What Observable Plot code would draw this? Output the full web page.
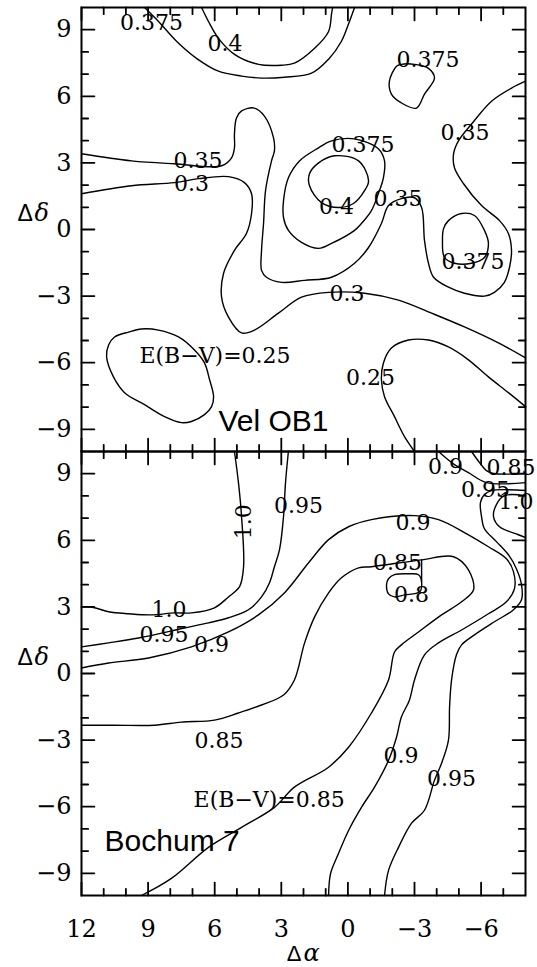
<!DOCTYPE html>
<html>
<head>
<meta charset="utf-8">
<script src="https://cdn.jsdelivr.net/npm/d3@7"></script>
<script src="https://cdn.jsdelivr.net/npm/@observablehq/plot@0.6"></script>
<style>
  html, body { margin: 0; padding: 0; background: #fff; }
  #chart svg { display: block; }
</style>
</head>
<body>
<div id="chart"></div>
<script>
// Reddening maps: iso-E(B−V) contours over offsets Δα, Δδ (arcmin)
const panels = ["Vel OB1", "Bochum 7"];

const xMajor = [12, 9, 6, 3, 0, -3, -6];
const xMinor = [11, 10, 8, 7, 5, 4, 2, 1, -1, -2, -4, -5, -7];
const yMajor = [-9, -6, -3, 0, 3, 6, 9];
const yMinor = [-8, -7, -5, -4, -2, -1, 1, 2, 4, 5, 7, 8];
const xDomain = [12, -8];
const yDomain = [-10, 10];

// ---- Vel OB1 contour vertices [Δα, Δδ] ----
const vel0375North = [[9.16,10],[8.53,9.37],[7.72,8.48],[6.82,7.71],[5.83,7.13],[4.79,6.91],[3.89,6.82],[2.86,6.86],[1.64,7.04],[0.87,7.67],[0.29,8.48],[-0.07,9.37],[-0.30,10]];
const vel040North = [[6.59,10],[6.28,9.37],[5.83,8.61],[5.11,7.89],[4.03,7.44],[2.99,7.40],[2.41,7.49],[1.50,8.16],[0.87,8.92],[0.74,9.69],[0.69,10]];
const vel0375NE = [[-2.19,7.35],[-1.87,6.68],[-1.96,6.10],[-2.41,5.70],[-3.09,5.47],[-3.45,6.10],[-3.90,6.82],[-3.63,7.26],[-3.00,7.44],[-2.41,7.44]];
const vel035 = [[12,3.41],[9.75,3.09],[7.81,2.96],[5.69,2.87],[5.24,3.23],[5.11,3.68],[5.11,4.30],[5.02,5.02],[4.79,5.34],[4.21,5.47],[3.76,5.11],[3.35,4.13],[3.31,3.54],[3.44,3.09],[3.71,1.75],[3.80,0.27],[3.89,-0.94],[3.89,-1.84],[3.67,-2.15],[2.99,-2.38],[1.95,-2.29],[0.74,-2.15],[-0.30,-1.52],[-0.93,-0.81],[-1.51,0.27],[-1.83,1.08],[-2.41,1.39],[-3.00,1.43],[-3.32,0.99],[-3.45,-0.49],[-3.63,-1.52],[-3.86,-2.15],[-4.53,-2.60],[-5.25,-2.87],[-6.15,-3.00],[-6.60,-2.83],[-7.05,-2.38],[-7.28,-1.70],[-7.37,-0.94],[-7.23,-0.18],[-6.83,0.40],[-6.02,1.08],[-5.21,2.06],[-4.80,2.78],[-4.76,3.41],[-4.98,3.99],[-5.57,4.75],[-6.47,5.78],[-7.37,6.37],[-8,6.68]];
const vel0375SE = [[-4.53,0.40],[-5.12,0.72],[-5.70,0.63],[-6.15,-0.04],[-6.33,-0.63],[-6.15,-1.26],[-5.57,-1.52],[-4.80,-1.52],[-4.35,-1.26],[-4.26,-0.49],[-4.31,0.04]];
const vel0375Mid = [[0.74,3.99],[-0.30,4.08],[-1.38,3.63],[-1.65,3.09],[-1.60,2.33],[-1.42,1.75],[-1.06,0.85],[-0.61,0.27],[-0.30,-0.04],[0.74,-0.63],[1.32,-0.85],[2.09,-0.58],[2.68,-0.04],[2.90,0.54],[2.90,1.30],[2.68,2.33],[2.18,3.09],[1.32,3.68]];
const vel040Mid = [[1.32,3.00],[0.60,3.32],[-0.48,3.09],[-0.93,2.20],[-0.75,1.75],[-0.25,1.17],[0.42,0.99],[1.19,1.21],[1.73,1.97],[1.73,2.51]];
const vel030 = [[12,1.61],[9.75,1.97],[7.81,2.11],[6.73,2.29],[5.38,2.38],[4.66,2.11],[4.34,1.61],[4.34,0.72],[4.57,-0.18],[5.11,-0.94],[5.60,-1.97],[5.69,-3.05],[5.38,-3.95],[4.79,-4.66],[4.21,-4.53],[3.13,-3.77],[2.09,-3.05],[0.87,-2.83],[-0.75,-2.87],[-2.28,-3.18],[-3.77,-3.77],[-5.25,-4.39],[-6.78,-5.11],[-8,-5.78]];
const vel025West = [[10.78,-5.20],[10.51,-4.84],[9.88,-4.62],[9.30,-4.48],[8.53,-4.53],[7.63,-4.84],[6.91,-5.43],[6.46,-6.01],[6.23,-6.77],[6.05,-7.53],[6.14,-7.98],[6.46,-8.34],[7.05,-8.65],[7.50,-8.70],[8.26,-8.43],[9.16,-7.89],[10.06,-7.35],[10.56,-6.64],[10.87,-5.74]];
const vel025East = [[-3.00,-10],[-2.55,-9.33],[-2.10,-8.43],[-1.65,-7.53],[-1.51,-6.77],[-1.60,-6.01],[-1.96,-5.34],[-2.73,-4.98],[-3.63,-4.98],[-4.53,-5.29],[-5.43,-5.87],[-6.33,-6.64],[-7.23,-7.35],[-8,-7.98]];

// ---- Bochum 7 contour vertices [Δα, Δδ] ----
const boc100West = [[5.11,10],[4.93,8.60],[4.79,7.07],[4.70,4.81],[4.88,3.91],[5.38,3.45],[6.01,2.96],[7.05,2.73],[7.81,2.73],[8.85,2.64],[9.88,2.69],[10.78,2.78],[11.41,2.96],[12,3.00]];
const boc095West = [[2.68,10],[2.81,8.60],[2.90,7.07],[3.08,5.58],[3.31,4.81],[3.53,4.09],[3.89,3.45],[4.48,2.87],[5.38,2.51],[6.28,2.28],[7.36,2.05],[9.43,1.60],[10.78,1.38],[12,1.20]];
const boc090 = [[12,0.25],[10.78,0.47],[8.98,0.70],[7.05,1.20],[5.38,1.87],[4.03,2.64],[2.86,3.63],[1.77,4.99],[0.87,6.03],[-0.03,6.61],[-1.06,6.93],[-3.00,7.11],[-4.08,6.93],[-5.25,6.35],[-6.33,5.71],[-7.14,5.17],[-7.46,4.58],[-7.50,3.81],[-7.14,3.23],[-6.33,2.69],[-5.12,1.96],[-4.08,1.38],[-3.45,0.84],[-3.00,-0.29],[-2.77,-1.20],[-2.41,-1.96],[-2.19,-2.87],[-1.83,-3.91],[-1.20,-5.12],[-0.61,-6.03],[-0.03,-7.07],[0.42,-8.10],[0.78,-9.01],[0.87,-10]];
const boc085 = [[12,-2.33],[10.51,-2.33],[8.71,-2.33],[7.50,-2.19],[6.01,-2.10],[4.93,-1.78],[3.89,-1.42],[2.90,-0.97],[2.41,-0.29],[1.95,1.38],[1.50,2.55],[0.87,3.63],[0.29,4.31],[-0.48,4.76],[-1.06,4.81],[-3.32,5.12],[-4.76,5.26],[-5.43,4.67],[-5.66,3.77],[-5.12,3.23],[-4.22,2.64],[-3.18,1.87],[-2.41,1.29],[-2.10,0.97],[-1.83,-0.29],[-1.06,-1.78],[-0.03,-3.32],[0.87,-4.22],[2.41,-5.12],[3.31,-6.03],[4.79,-6.93],[6.28,-7.83],[7.95,-9.23],[9.30,-10]];
const boc095East = [[-8,8.24],[-6.47,8.24],[-6.15,8.06],[-5.97,7.70],[-6.02,7.07],[-6.15,6.52],[-6.69,5.94],[-7.23,5.35],[-7.59,4.72],[-7.82,4.00],[-7.82,3.32],[-7.46,2.87],[-6.60,2.33],[-5.70,1.74],[-5.12,1.29],[-4.89,0.84],[-4.67,-0.29],[-4.58,-1.51],[-4.53,-3.00],[-4.22,-4.04],[-3.90,-4.81],[-3.45,-6.16],[-2.86,-6.75],[-2.28,-7.83],[-1.83,-8.87],[-1.65,-10]];
const boc100East = [[-8,8.01],[-7.05,8.01],[-6.69,7.61],[-6.56,7.07],[-6.83,6.61],[-7.68,6.25],[-8,6.12]];
const boc090Corner = [[-4.08,10],[-4.80,9.41],[-5.43,9.05],[-6.24,8.60],[-8,8.60]];
const boc085Corner = [[-5.57,10],[-5.93,9.50],[-6.24,9.14],[-6.56,9.01],[-8,9.01]];
const boc085Link = [[-3.32,5.12],[-3.32,4.13]];
const boc080 = [[-1.83,4.27],[-2.10,4.45],[-2.73,4.49],[-3.18,4.45],[-3.32,4.13],[-3.23,3.68],[-2.55,3.54],[-2.10,3.45],[-1.83,3.59],[-1.74,4.00]];

// contour level labels: [level, Δα, Δδ, kind]  kind: "" centred, "start", "key" (E(B−V)= prefix), "up" (rotated)
const velLabels = [
  [0.375, 8.85, 9.30, ""], [0.4, 5.54, 8.36, ""], [0.375, -3.61, 7.65, ""],
  [0.35, -5.27, 4.37, ""], [0.375, -0.68, 3.83, ""], [0.35, 6.75, 3.09, ""],
  [0.3, 7.05, 2.04, ""], [0.4, 0.51, 1.03, ""], [0.35, -2.26, 1.37, ""],
  [0.375, -5.64, -1.46, ""], [0.3, 0.04, -2.89, ""], [0.25, 9.39, -5.70, "key"],
  [0.25, -1.02, -6.70, ""]
];
const bocLabels = [
  [0.9, -4.40, 9.32, ""], [0.85, -6.24, 9.28, "start"], [0.95, -6.20, 8.26, ""],
  [1.0, -6.78, 7.72, "start"], [1.0, 4.66, 6.84, "up"], [0.95, 2.23, 7.54, ""],
  [0.9, -2.93, 6.77, ""], [0.85, -2.23, 4.97, ""], [0.8, -2.86, 3.52, ""],
  [1.0, 8.06, 2.84, ""], [0.95, 8.28, 1.72, ""], [0.9, 6.14, 1.29, ""],
  [0.85, 5.81, -3.02, ""], [0.85, 6.95, -5.71, "key"], [0.9, -2.39, -3.70, ""],
  [0.95, -4.67, -4.74, ""]
];

// panel names and where they sit
const panelNameAt = [[5.83, -8.63], [10.96, -7.57]];

// ---- assemble tables for the marks ----
const contours = [
  ["Vel OB1", 0.375, false, vel0375North], ["Vel OB1", 0.4, false, vel040North],
  ["Vel OB1", 0.375, true, vel0375NE], ["Vel OB1", 0.35, false, vel035],
  ["Vel OB1", 0.375, true, vel0375SE], ["Vel OB1", 0.375, true, vel0375Mid],
  ["Vel OB1", 0.4, true, vel040Mid], ["Vel OB1", 0.3, false, vel030],
  ["Vel OB1", 0.25, true, vel025West], ["Vel OB1", 0.25, false, vel025East],
  ["Bochum 7", 1.0, false, boc100West], ["Bochum 7", 0.95, false, boc095West],
  ["Bochum 7", 0.9, false, boc090], ["Bochum 7", 0.85, false, boc085],
  ["Bochum 7", 0.95, false, boc095East], ["Bochum 7", 1.0, false, boc100East],
  ["Bochum 7", 0.9, false, boc090Corner], ["Bochum 7", 0.85, false, boc085Corner],
  ["Bochum 7", 0.85, false, boc085Link], ["Bochum 7", 0.8, true, boc080]
];
const rows = contours.flatMap(([panel, level, closed, pts], id) =>
  pts.map(([x, y]) => ({id, panel, level, closed, x, y})));
const openRows = rows.filter(d => !d.closed);
const closedRows = rows.filter(d => d.closed);

const labelRows = [
  ...velLabels.map(([level, x, y, kind]) => ({panel: panels[0], level, x, y, kind})),
  ...bocLabels.map(([level, x, y, kind]) => ({panel: panels[1], level, x, y, kind}))
];
const fmt = v => (v === 1 ? "1.0" : String(v));
const labelText = d => (d.kind === "key" ? "E(B\u2212V)=" : "") + fmt(d.level);

const nameRows = panels.map((panel, i) => ({panel, x: panelNameAt[i][0], y: panelNameAt[i][1]}));

// inward tick segments on all four sides of each panel (lengths in axis units)
const majorLen = 0.58, minorLen = 0.3;
const tickPaths = [];
let tid = 0;
for (const panel of panels) {
  for (const [vals, len] of [[xMajor, majorLen], [xMinor, minorLen]]) {
    for (const v of vals) {
      tickPaths.push({panel, id: tid, x: v, y: -10}, {panel, id: tid, x: v, y: -10 + len});
      tid += 1;
      tickPaths.push({panel, id: tid, x: v, y: 10}, {panel, id: tid, x: v, y: 10 - len});
      tid += 1;
    }
  }
  for (const [vals, len] of [[yMajor, majorLen], [yMinor, minorLen]]) {
    for (const v of vals) {
      tickPaths.push({panel, id: tid, x: 12, y: v}, {panel, id: tid, x: 12 - len, y: v});
      tid += 1;
      tickPaths.push({panel, id: tid, x: -8, y: v}, {panel, id: tid, x: -8 + len, y: v});
      tid += 1;
    }
  }
}

const serif = "DejaVu Serif";

const chart = Plot.plot({
  width: 537, height: 967,
  marginTop: 6, marginBottom: 72, marginLeft: 81, marginRight: 12,
  x: {domain: xDomain},
  y: {domain: yDomain},
  fy: {domain: panels, axis: null, padding: 0},
  style: {fontFamily: serif},
  marks: [
    // inward ticks
    Plot.line(tickPaths, {x: "x", y: "y", z: "id", fy: "panel", stroke: "#000", strokeWidth: 1.8}),

    // tick labels
    Plot.axisX(xMajor, {tickSize: 0, tickPadding: 24, fontSize: 24, label: null}),
    Plot.axisY(yMajor, {tickSize: 0, tickPadding: 10, fontSize: 24, label: null}),

    // contours
    Plot.line(openRows, {x: "x", y: "y", z: "id", fy: "panel", curve: "catmull-rom", stroke: "#000", strokeWidth: 1.4}),
    Plot.line(closedRows, {x: "x", y: "y", z: "id", fy: "panel", curve: "catmull-rom-closed", stroke: "#000", strokeWidth: 1.4}),

    // contour level labels
    Plot.text(labelRows.filter(d => d.kind === "" || d.kind === "up"), {
      x: "x", y: "y", fy: "panel", text: labelText,
      rotate: d => (d.kind === "up" ? -90 : 0),
      fontSize: 22, fontFamily: serif, fill: "#000"
    }),
    Plot.text(labelRows.filter(d => d.kind === "start" || d.kind === "key"), {
      x: "x", y: "y", fy: "panel", text: labelText, textAnchor: "start",
      fontSize: 22, fontFamily: serif, fill: "#000"
    }),

    // panel names
    Plot.text(nameRows, {
      x: "x", y: "y", fy: "panel", text: "panel", textAnchor: "start",
      fontSize: 30, fontFamily: "Liberation Sans", fill: "#000"
    }),

    // axis titles Δδ (each panel) and Δα (bottom)
    Plot.text(panels, {fy: Plot.identity, y: [0.72, 0.72], frameAnchor: "left", dx: -64, textAnchor: "start",
      text: () => "\u0394", fontSize: 23, fontFamily: "Liberation Sans", fill: "#000"}),
    Plot.text(panels, {fy: Plot.identity, y: [0.72, 0.72], frameAnchor: "left", dx: -47, textAnchor: "start",
      text: () => "\u03b4", fontSize: 24, fontStyle: "italic", fontFamily: serif, fill: "#000"}),
    Plot.text([panels[1]], {fy: Plot.identity, frameAnchor: "bottom", lineAnchor: "middle", dy: 58, dx: -2, textAnchor: "end",
      text: () => "\u0394", fontSize: 22, fontFamily: "Liberation Sans", fill: "#000"}),
    Plot.text([panels[1]], {fy: Plot.identity, frameAnchor: "bottom", lineAnchor: "middle", dy: 58, dx: 0, textAnchor: "start",
      text: () => "\u03b1", fontSize: 24, fontStyle: "italic", fontFamily: serif, fill: "#000"}),

    Plot.frame({stroke: "#000", strokeWidth: 2})
  ]
});

document.getElementById("chart").append(chart);
</script>
</body>
</html>
